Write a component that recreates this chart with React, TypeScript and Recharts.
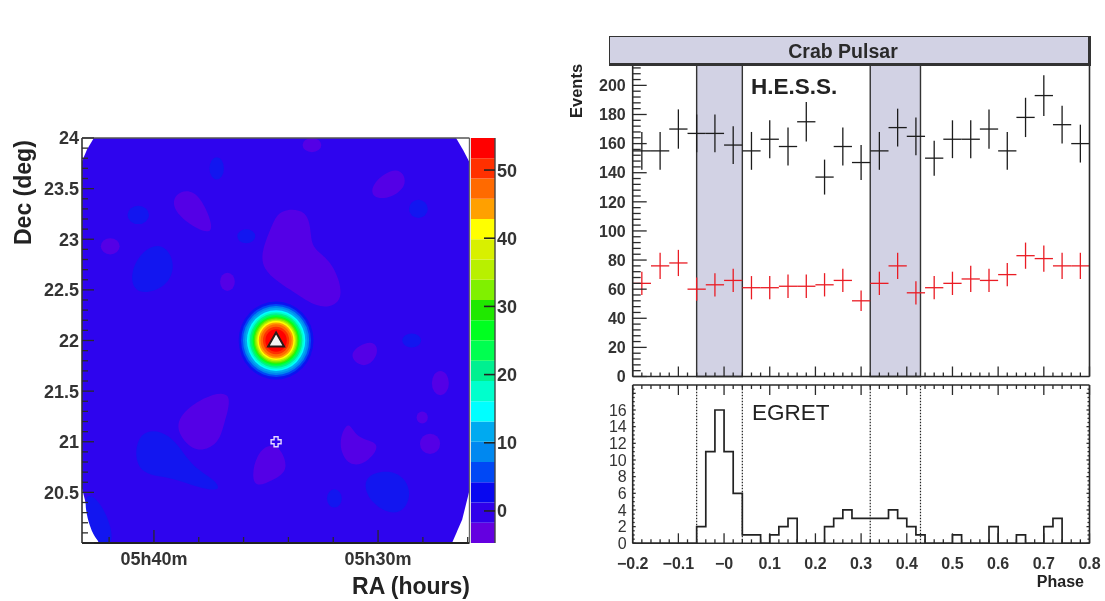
import { ComposedChart, ErrorBar, Line, ReferenceArea, ReferenceLine, Scatter, ScatterChart, XAxis, YAxis } from "recharts";

const FONT = "'Liberation Sans', Arial, sans-serif";
const INK = "#2a2a2a";
const BAND_FILL = "#d2d2e4";

// ---- sky map ----
const RA_DOMAIN = [25.92, 43.21];
const DEC_DOMAIN = [20, 24];
const PX_PER_MIN = 22.4;
const PX_PER_DEG = 101.25;

const MAP_BASE = "#2e04ee";
const MAP_PURPLE = "#5400e6";
const MAP_BLUE = "#1216f0";

const fovRa = [42.68, 26.52, 26.2, 25.92, 25.92, 26.25, 26.7, 42.46, 42.86, 43.21, 43.21, 42.98];
const fovDec = [24, 24, 23.88, 23.76, 20.52, 20.23, 20, 20, 20.23, 20.54, 23.77, 23.89];

const purpleBlobs = [
  [[39.1, 23.46], [38.2, 23.5], [37.6, 23.28], [37.3, 23.06], [38.0, 23.08], [39.2, 23.28]],
  [[34.4, 23.3], [33.1, 23.3], [33.0, 23.03], [32.9, 22.9], [32.0, 22.78], [31.4, 22.38], [32.6, 22.3], [33.6, 22.46], [35.4, 22.7], [35.0, 23.0], [34.7, 23.15]],
  [[30.3, 23.56], [29.1, 23.74], [28.6, 23.55], [29.4, 23.4], [30.3, 23.4]],
  [[39.0, 21.24], [37.8, 21.45], [36.4, 21.52], [36.9, 21.16], [37.1, 20.98], [38.1, 20.88], [38.9, 21.06]],
  [[35.5, 20.9], [34.5, 21.02], [33.9, 20.72], [34.7, 20.62], [35.7, 20.52]],
  [[31.85, 20.98], [31.3, 21.24], [31.0, 21.02], [29.8, 21.0], [30.4, 20.8], [31.3, 20.74]],
  [[31.5, 21.87], [30.2, 22.03], [29.9, 21.87], [30.6, 21.7]],
];
const blueBlobs = [
  [[40.6, 22.88], [39.6, 22.98], [39.0, 22.76], [39.4, 22.52], [40.8, 22.44], [41.1, 22.64]],
  [[40.8, 21.14], [39.2, 21.1], [38.4, 20.76], [37.2, 20.62], [37.0, 20.5], [38.2, 20.56], [39.4, 20.66], [40.9, 20.68]],
  [[30.8, 20.68], [29.1, 20.74], [28.4, 20.5], [29.0, 20.24], [30.4, 20.38]],
  [[43.3, 20.54], [42.3, 20.42], [41.6, 19.96], [42.7, 19.96]],
];
const smallPatches = [
  { ra: 41.95, dec: 22.93, rRa: 0.42, rDec: 0.08, fill: MAP_PURPLE },
  { ra: 36.72, dec: 22.58, rRa: 0.33, rDec: 0.09, fill: MAP_PURPLE },
  { ra: 32.95, dec: 23.93, rRa: 0.42, rDec: 0.07, fill: MAP_PURPLE },
  { ra: 27.22, dec: 21.58, rRa: 0.38, rDec: 0.12, fill: MAP_PURPLE },
  { ra: 27.68, dec: 20.98, rRa: 0.45, rDec: 0.1, fill: MAP_PURPLE },
  { ra: 28.03, dec: 21.24, rRa: 0.25, rDec: 0.06, fill: MAP_PURPLE },
  { ra: 37.2, dec: 23.7, rRa: 0.32, rDec: 0.11, fill: MAP_BLUE },
  { ra: 31.95, dec: 20.44, rRa: 0.33, rDec: 0.09, fill: MAP_BLUE },
  { ra: 28.2, dec: 23.3, rRa: 0.42, rDec: 0.09, fill: MAP_BLUE },
  { ra: 35.88, dec: 23.03, rRa: 0.4, rDec: 0.07, fill: MAP_BLUE },
  { ra: 40.7, dec: 23.24, rRa: 0.48, rDec: 0.09, fill: MAP_BLUE },
  { ra: 28.5, dec: 22.0, rRa: 0.42, rDec: 0.07, fill: MAP_BLUE },
];

const ringColors = ["#0c12f0", "#0048f5", "#0088f0", "#00aaf0", "#00ffff", "#00ffcc", "#00f090", "#00ff50", "#00ff20", "#40ee00", "#80f000", "#c0f000", "#ffff00", "#ffa000", "#ff6a00", "#ff3000", "#ff0000"];
const ringRadii = [0.385, 0.36, 0.34, 0.32, 0.3, 0.285, 0.27, 0.255, 0.24, 0.23, 0.218, 0.205, 0.192, 0.178, 0.16, 0.135, 0.11];

const crabCentre = [{ ra: 34.55, dec: 22.0 }];
const pulsarMarker = [{ ra: 34.55, dec: 21.0 }];

// ---- colour scale ----
const scaleEdges = [-4.7, -1.73, 1.24, 4.21, 7.18, 10.15, 13.12, 16.09, 19.06, 22.03, 25, 27.97, 30.94, 33.91, 36.88, 39.85, 42.82, 45.79, 48.76, 51.73, 54.7];
const scaleColors = ["#6400e0", "#3000ea", "#0808f0", "#0048f5", "#0088f0", "#00aaf0", "#00ffff", "#00ffcc", "#00f090", "#00ff50", "#00ff20", "#20e800", "#80f000", "#b8f000", "#d8f000", "#ffff00", "#ffa000", "#ff6a00", "#ff3000", "#ff0000"];
const scaleTicks = [0, 10, 20, 30, 40, 50];

// ---- phaseogram ----
const PHASE_DOMAIN = [-0.2, 0.8];
const offPulseBands = [[-0.06, 0.04], [0.32, 0.43]];
const phaseLabels = ["−0.2", "−0.1", "−0", "0.1", "0.2", "0.3", "0.4", "0.5", "0.6", "0.7", "0.8"];

const hessPhase = [-0.18, -0.14, -0.1, -0.06, -0.02, 0.02, 0.06, 0.1, 0.14, 0.18, 0.22, 0.26, 0.3, 0.34, 0.38, 0.42, 0.46, 0.5, 0.54, 0.58, 0.62, 0.66, 0.7, 0.74, 0.78];
const hessAll = [155, 155, 170, 167, 167, 159, 155, 163, 158, 175, 137, 158, 147, 155, 171, 165, 150, 163, 163, 170, 155, 178, 193, 173, 160];
const hessAllErr = [13, 13, 13.5, 13, 13, 13, 13, 13, 13, 13.5, 12, 13, 12, 13, 13, 13, 12, 13, 13, 13.5, 13, 13.5, 14, 13, 13];
const hessCut = [64, 76, 78, 60, 63, 66, 61, 61, 62, 62, 63, 66, 52, 64, 76, 57.5, 61, 64, 67, 66, 70, 83, 81, 76, 76];
const hessCutErr = [8, 9, 9, 8, 8, 8, 8, 8, 8, 8, 8, 8, 7, 8, 9, 8, 8, 8, 9, 8, 8, 9, 9, 9, 9];

// counts per 0.02 phase bin, starting at -0.2
const egretCounts = [0, 0, 0, 0, 0, 0, 0, 2, 11, 16, 11, 6, 1, 1, 0, 1, 2, 3, 0, 0, 0, 2, 3, 4, 3, 3, 3, 3, 4, 3, 2, 1, 0, 0, 0, 1, 0, 0, 0, 2, 0, 0, 1, 0, 0, 2, 3, 0, 0, 0, 0];

const toPolygon = (points: number[][]) => points.map(([ra, dec]) => ({ ra, dec }));
const fovPolygon = fovRa.map((ra, i) => ({ ra, dec: fovDec[i] }));
const ringData = ringRadii.map((r, i) => ({ ra: crabCentre[0].ra, dec: crabCentre[0].dec, rRa: (r * PX_PER_DEG * 0.96) / PX_PER_MIN, rDec: r, fill: ringColors[i] }));
const toHess = (values: number[], errs: number[]) => values.map((v, i) => ({ phase: hessPhase[i], events: v, err: errs[i], bin: 0.02 }));
const hessAllData = toHess(hessAll, hessAllErr);
const hessCutData = toHess(hessCut, hessCutErr);
const egretData = egretCounts.map((counts, i) => ({ phase: Math.round((-0.2 + i * 0.02) * 100) / 100, counts }));

const steps = (from: number, to: number, step: number) => {
  const out: number[] = [];
  const n = Math.round((to - from) / step);
  for (let i = 0; i <= n; i++) out.push(Math.round((from + i * step) * 1000) / 1000);
  return out;
};
const isMultiple = (v: number, step: number) => Math.abs(v / step - Math.round(v / step)) < 1e-6;

type TickOpts = {
  side: "left" | "right" | "top" | "bottom";
  major: number;
  longLen: number;
  shortLen: number;
  color?: string;
  width?: number;
  fontSize?: number;
  fontWeight?: string | number;
  gap?: number;
  label?: (v: number) => string | null;
};

// ticks point into the plot, the way ROOT draws them
const inwardTick = (o: TickOpts) => (props: any) => {
  const { x, y, payload } = props;
  const v = payload.value;
  const len = isMultiple(v, o.major) ? o.longLen : o.shortLen;
  const ends = {
    left: [x + len, y],
    right: [x - len, y],
    top: [x, y + len],
    bottom: [x, y - len],
  }[o.side];
  const text = o.label ? o.label(v) : null;
  const gap = o.gap ?? 4;
  return (
    <g>
      <line x1={x} y1={y} x2={ends[0]} y2={ends[1]} stroke={o.color ?? INK} strokeWidth={o.width ?? 1.3} />
      {text !== null && (
        <text
          x={o.side === "left" ? x - gap : o.side === "right" ? x + gap : x}
          y={o.side === "bottom" ? y + gap : y}
          dy="0.36em"
          textAnchor={o.side === "left" ? "end" : o.side === "right" ? "start" : "middle"}
          fontFamily={FONT}
          fontSize={o.fontSize ?? 16}
          fontWeight={o.fontWeight ?? "bold"}
          fill="#333"
        >
          {text}
        </text>
      )}
    </g>
  );
};

const noMark = () => null;
const patchShape = (p: any) => (
  <ellipse cx={p.cx} cy={p.cy} rx={p.payload.rRa * PX_PER_MIN} ry={p.payload.rDec * PX_PER_DEG} fill={p.payload.fill} />
);
const triangleShape = (p: any) => (
  <path d={`M${p.cx} ${p.cy - 8}L${p.cx + 8} ${p.cy + 6}L${p.cx - 8} ${p.cy + 6}Z`} fill="#f4f4f4" stroke="#2a1a1a" strokeWidth={2} />
);
const plusShape = (p: any) => (
  <path
    d={`M${p.cx - 2} ${p.cy - 5}h4v3h3v4h-3v3h-4v-3h-3v-4h3z`}
    fill={MAP_BASE}
    stroke="#e6d8ff"
    strokeWidth={1.4}
  />
);

// series only; the axes go in a second chart on top so the map does not cover its ticks
function SkyMap() {
  return (
    <ScatterChart width={500} height={601} margin={{ top: 138, right: 30.5, bottom: 58, left: 82 }}>
      <XAxis type="number" dataKey="ra" domain={RA_DOMAIN} reversed allowDataOverflow hide />
      <YAxis type="number" dataKey="dec" domain={DEC_DOMAIN} allowDataOverflow hide />
      <Scatter data={fovPolygon} fill={MAP_BASE} line={{ fill: MAP_BASE, stroke: "none" }} lineJointType="linearClosed" shape={noMark} isAnimationActive={false} />
      {purpleBlobs.map((blob, i) => (
        <Scatter key={`p${i}`} data={toPolygon(blob)} fill={MAP_PURPLE} line={{ fill: MAP_PURPLE, stroke: "none" }} lineJointType="basisClosed" shape={noMark} isAnimationActive={false} />
      ))}
      {blueBlobs.map((blob, i) => (
        <Scatter key={`b${i}`} data={toPolygon(blob)} fill={MAP_BLUE} line={{ fill: MAP_BLUE, stroke: "none" }} lineJointType="basisClosed" shape={noMark} isAnimationActive={false} />
      ))}
      <Scatter data={smallPatches} shape={patchShape} isAnimationActive={false} />
      <Scatter data={ringData} shape={patchShape} isAnimationActive={false} />
      <Scatter data={crabCentre} shape={triangleShape} isAnimationActive={false} />
      <Scatter data={pulsarMarker} shape={plusShape} isAnimationActive={false} />
    </ScatterChart>
  );
}

function SkyMapAxes() {
  return (
    <ScatterChart width={500} height={601} margin={{ top: 137, right: 29.5, bottom: 28, left: 0 }}>
      <XAxis
        type="number"
        dataKey="ra"
        domain={RA_DOMAIN}
        reversed
        allowDataOverflow
        ticks={steps(26, 42, 2)}
        interval={0}
        height={30}
        tickSize={0}
        tickMargin={0}
        tickLine={false}
        axisLine={{ stroke: "#222", strokeWidth: 2 }}
        tick={inwardTick({
          side: "bottom",
          major: 10,
          longLen: 13,
          shortLen: 6,
          gap: 16,
          fontSize: 18,
          label: (v) => (v === 40 ? "05h40m" : v === 30 ? "05h30m" : null),
        })}
      />
      <YAxis
        type="number"
        dataKey="dec"
        domain={DEC_DOMAIN}
        allowDataOverflow
        ticks={steps(20, 24, 0.1)}
        interval={0}
        width={82}
        tickSize={0}
        tickMargin={0}
        tickLine={false}
        axisLine={{ stroke: "#333", strokeWidth: 1.6 }}
        tick={inwardTick({
          side: "left",
          major: 0.5,
          longLen: 12,
          shortLen: 6,
          gap: 3,
          fontSize: 18,
          label: (v) => (isMultiple(v, 0.5) && v > 20 ? String(v) : null),
        })}
      />
      <YAxis yAxisId="right" orientation="right" type="number" domain={DEC_DOMAIN} width={1} tick={false} tickLine={false} axisLine={{ stroke: "#666", strokeWidth: 1.4 }} />
      <XAxis xAxisId="top" orientation="top" type="number" domain={RA_DOMAIN} reversed height={1} tick={false} tickLine={false} axisLine={{ stroke: "#555", strokeWidth: 1.4 }} />
      <Scatter data={[]} shape={noMark} isAnimationActive={false} />
    </ScatterChart>
  );
}

function ColourScale() {
  return (
    <ComposedChart width={70} height={601} margin={{ top: 138, right: 46, bottom: 58, left: 0 }} data={[{ x: 0 }, { x: 1 }]}>
      <XAxis dataKey="x" type="number" domain={[0, 1]} hide />
      <YAxis type="number" domain={[-4.7, 54.7]} allowDataOverflow hide />
      {scaleColors.map((color, i) => (
        <ReferenceArea key={color} y1={scaleEdges[i]} y2={scaleEdges[i + 1]} fill={color} fillOpacity={1} stroke="none" />
      ))}
    </ComposedChart>
  );
}

function ColourScaleAxis() {
  return (
    <ComposedChart width={70} height={601} margin={{ top: 138, right: 45, bottom: 58, left: 0 }} data={[{ x: 0 }, { x: 1 }]}>
      <XAxis dataKey="x" type="number" domain={[0, 1]} hide />
      <YAxis
        orientation="right"
        type="number"
        domain={[-4.7, 54.7]}
        allowDataOverflow
        ticks={scaleTicks}
        interval={0}
        width={1}
        tickSize={0}
        tickMargin={0}
        tickLine={false}
        axisLine={{ stroke: "#444", strokeWidth: 1.4 }}
        tick={inwardTick({ side: "right", major: 10, longLen: 11, shortLen: 11, color: "#222", width: 1.6, gap: 2, fontSize: 18, label: (v) => String(v) })}
      />
    </ComposedChart>
  );
}

function HessBands() {
  return (
    <ScatterChart width={545} height={340} margin={{ top: 10, right: 15.5, bottom: 18.5, left: 72.7 }}>
      <XAxis type="number" dataKey="phase" domain={PHASE_DOMAIN} allowDataOverflow hide />
      <YAxis type="number" dataKey="events" domain={[0, 214]} allowDataOverflow hide />
      {offPulseBands.map(([from, to]) => (
        <ReferenceArea key={from} x1={from} x2={to} fill={BAND_FILL} fillOpacity={1} stroke="#333" strokeWidth={1.4} />
      ))}
    </ScatterChart>
  );
}

function HessPanel() {
  return (
    <ScatterChart width={545} height={340} margin={{ top: 10, right: 14.5, bottom: 17.5, left: 0 }}>
      <XAxis
        type="number"
        dataKey="phase"
        domain={PHASE_DOMAIN}
        allowDataOverflow
        ticks={steps(-0.2, 0.8, 0.02)}
        interval={0}
        height={1}
        tickSize={0}
        tickMargin={0}
        tickLine={false}
        axisLine={{ stroke: INK, strokeWidth: 1.6 }}
        tick={inwardTick({ side: "bottom", major: 0.1, longLen: 10, shortLen: 4 })}
      />
      <YAxis
        type="number"
        dataKey="events"
        domain={[0, 214]}
        allowDataOverflow
        ticks={steps(0, 212, 4)}
        interval={0}
        width={72.7}
        tickSize={0}
        tickMargin={0}
        tickLine={false}
        axisLine={{ stroke: INK, strokeWidth: 1.6 }}
        tick={inwardTick({ side: "left", major: 20, longLen: 14, shortLen: 8, gap: 7, label: (v) => (isMultiple(v, 20) ? String(v) : null) })}
      />
      <YAxis yAxisId="right" orientation="right" type="number" domain={[0, 214]} width={1} tick={false} tickLine={false} axisLine={{ stroke: INK, strokeWidth: 1.6 }} />
      <Scatter data={hessAllData} shape={noMark} isAnimationActive={false}>
        <ErrorBar dataKey="err" direction="y" width={0} stroke="#1c1c1c" strokeWidth={1.3} isAnimationActive={false} />
        <ErrorBar dataKey="bin" direction="x" width={0} stroke="#1c1c1c" strokeWidth={1.3} isAnimationActive={false} />
      </Scatter>
      <Scatter data={hessCutData} shape={noMark} isAnimationActive={false}>
        <ErrorBar dataKey="err" direction="y" width={0} stroke="#ea1c24" strokeWidth={1.3} isAnimationActive={false} />
        <ErrorBar dataKey="bin" direction="x" width={0} stroke="#ea1c24" strokeWidth={1.3} isAnimationActive={false} />
      </Scatter>
    </ScatterChart>
  );
}

function EgretPanel() {
  return (
    <ComposedChart width={545} height={200} data={egretData} margin={{ top: 9, right: 14.5, bottom: 6.7, left: 0 }}>
      <XAxis
        type="number"
        dataKey="phase"
        domain={PHASE_DOMAIN}
        allowDataOverflow
        ticks={steps(-0.2, 0.8, 0.02)}
        interval={0}
        height={25}
        tickSize={0}
        tickMargin={0}
        tickLine={false}
        axisLine={{ stroke: INK, strokeWidth: 1.6 }}
        tick={inwardTick({
          side: "bottom",
          major: 0.1,
          longLen: 10,
          shortLen: 4,
          gap: 20,
          label: (v) => (isMultiple(v, 0.1) ? phaseLabels[Math.round((v + 0.2) * 10)] : null),
        })}
      />
      <XAxis
        xAxisId="top"
        orientation="top"
        type="number"
        dataKey="phase"
        domain={PHASE_DOMAIN}
        allowDataOverflow
        ticks={steps(-0.2, 0.8, 0.02)}
        interval={0}
        height={1}
        tickSize={0}
        tickMargin={0}
        tickLine={false}
        axisLine={{ stroke: INK, strokeWidth: 1.6 }}
        tick={inwardTick({ side: "top", major: 0.1, longLen: 10, shortLen: 4 })}
      />
      <YAxis
        type="number"
        domain={[0, 19]}
        allowDataOverflow
        ticks={steps(0, 18.5, 0.5)}
        interval={0}
        width={72.7}
        tickSize={0}
        tickMargin={0}
        tickLine={false}
        axisLine={{ stroke: INK, strokeWidth: 1.6 }}
        tick={inwardTick({
          side: "left",
          major: 2,
          longLen: 3,
          shortLen: 2,
          gap: 6,
          fontWeight: "normal",
          label: (v) => (isMultiple(v, 2) && v <= 16 ? String(v) : null),
        })}
      />
      <YAxis
        yAxisId="right"
        orientation="right"
        type="number"
        domain={[0, 19]}
        allowDataOverflow
        ticks={steps(0, 18.5, 0.5)}
        interval={0}
        width={1}
        tickSize={0}
        tickMargin={0}
        tickLine={false}
        axisLine={{ stroke: INK, strokeWidth: 1.6 }}
        tick={inwardTick({ side: "right", major: 2, longLen: 3, shortLen: 2 })}
      />
      {offPulseBands.flat().map((x) => (
        <ReferenceLine key={x} x={x} stroke="#222" strokeDasharray="1.5 1.5" strokeWidth={1.2} />
      ))}
      {/* invisible copy so the mirrored top and right axes get a scale */}
      <Line xAxisId="top" yAxisId="right" type="stepAfter" dataKey="counts" stroke="none" dot={false} isAnimationActive={false} />
      <Line type="stepAfter" dataKey="counts" stroke="#222" strokeWidth={1.7} dot={false} isAnimationActive={false} />
    </ComposedChart>
  );
}

const layer = (left: number, top: number) => ({ position: "absolute" as const, left, top });

export default function App() {
  return (
    <div style={{ position: "absolute", left: 0, top: 0, width: 1105, height: 601, background: "#fff", overflow: "hidden", filter: "blur(0.45px)" }}>
      <div style={layer(0, 0)}><SkyMap /></div>
      <div style={layer(0, 0)}><SkyMapAxes /></div>
      <div style={layer(471, 0)}><ColourScale /></div>
      <div style={layer(471, 0)}><ColourScaleAxis /></div>
      <div style={layer(560, 55)}><HessBands /></div>
      <div style={layer(560, 55)}><HessPanel /></div>
      <div style={layer(560, 375)}><EgretPanel /></div>
      <div
        style={{
          position: "absolute",
          left: 609,
          top: 36,
          width: 478,
          height: 26,
          background: BAND_FILL,
          borderStyle: "solid",
          borderColor: "#333",
          borderWidth: "1px 3px 3px 1px",
          textAlign: "center",
          fontFamily: FONT,
          fontWeight: "bold",
          fontSize: 19.5,
          lineHeight: "28px",
          color: "#2a2a2a",
          boxSizing: "content-box",
        }}
      >
        <span style={{ position: "relative", left: -6 }}>Crab Pulsar</span>
      </div>
      <svg width={1105} height={601} style={{ position: "absolute", left: 0, top: 0 }} fontFamily={FONT} fill="#222">
        <text x={751} y={94} fontSize={22.5} fontWeight="bold">H.E.S.S.</text>
        <text x={752} y={420} fontSize={22.5}>EGRET</text>
        <text x={1084} y={587} fontSize={16} fontWeight="bold" textAnchor="end">Phase</text>
        <text transform="translate(582 118) rotate(-90)" fontSize={16.5} fontWeight="bold">Events</text>
        <text transform="translate(31 245) rotate(-90)" fontSize={23} fontWeight="bold">Dec (deg)</text>
        <text x={470} y={594} fontSize={23} fontWeight="bold" textAnchor="end">RA (hours)</text>
      </svg>
    </div>
  );
}
